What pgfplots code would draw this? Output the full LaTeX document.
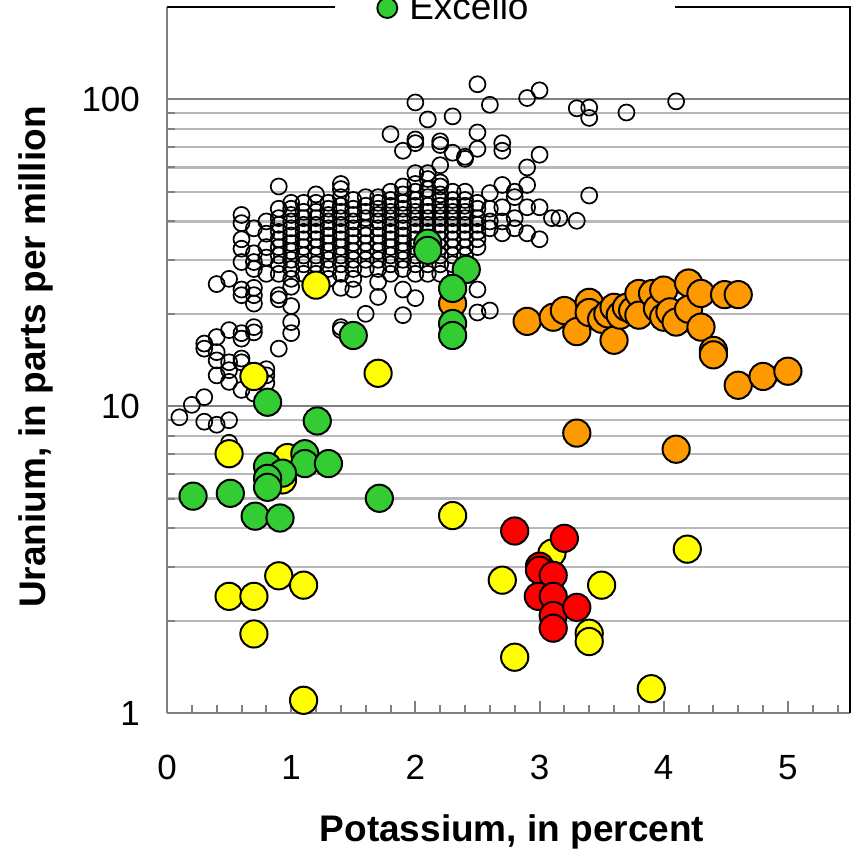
\documentclass[border=0pt]{standalone}
\usepackage{fontspec}
\setmainfont{Liberation Sans}
\usepackage{pgfplots}
\pgfplotsset{compat=1.18}
\definecolor{yel}{HTML}{FFFF00}
\definecolor{grn}{HTML}{33CC33}
\definecolor{org}{HTML}{FF9900}
\definecolor{rd}{HTML}{FF0000}
\definecolor{gridmaj}{HTML}{808080}
\definecolor{gridmin}{HTML}{B8B8B8}
\begin{document}
\begin{tikzpicture}
\begin{axis}[
  at={(0,0)}, anchor=south west,
  scale only axis, width=341.5pt, height=353pt,
  xmin=0, xmax=5.5, ymin=1, ymax=200, ymode=log,
  axis x line=bottom, axis y line=left,
  axis line style={-, gridmaj, line width=1.2pt},
  xtick={0,1,2,3,4,5}, xticklabels={0,1,2,3,4,5},
  minor xtick={0.2,0.4,0.6,0.8,1.2,1.4,1.6,1.8,2.2,2.4,2.6,2.8,3.2,3.4,3.6,3.8,4.2,4.4,4.6,4.8,5.2,5.4},
  ytick={1,10,100}, yticklabels={1,10,100},
  minor ytick={2,3,4,5,6,7,8,9,20,30,40,50,60,70,80,90},
  tick align=inside,
  major tick length=6pt, minor tick length=4pt,
  tick style={gridmaj, line width=1pt},
  ymajorgrids, yminorgrids,
  major grid style={gridmaj, line width=1.1pt},
  minor grid style={gridmin, line width=1.1pt},
  ticklabel style={font=\fontsize{17.5}{20}\selectfont},
  xticklabel style={yshift=-17.5pt},
  yticklabel style={xshift=-10pt},
  xlabel={Potassium, in percent},
  ylabel={Uranium, in parts per million},
  label style={font=\fontsize{18.5}{22}\selectfont\bfseries},
  xlabel style={at={(axis description cs:0.5051,-0.1813)}, anchor=base},
  ylabel style={at={(axis description cs:-0.1786,0.504)}, anchor=base},
  legend style={at={(axis description cs:0.306,0.9986)}, anchor=west, draw=none, fill=none,
    inner sep=0pt, font=\fontsize{18.5}{21}\selectfont},
  legend image code/.code={\draw[fill=grn, draw=black, line width=0.9pt] (5pt,0pt) circle (5pt);
    \path[draw=none, fill=none] (0pt,0pt) -- (14pt,0pt);},
]
% other samples (open circles)
\addplot[only marks, mark=o, mark size=4pt, mark options={black, line width=0.85pt}, forget plot] coordinates {
(0.1,9.2) (0.2,10.1) (0.3,10.7) (0.3,8.9) (0.4,8.7) (0.5,9.0) (0.5,7.6)
(0.4,12.6) (0.5,12.0) (0.6,11.3) (0.7,11.0) (0.8,12.6) (0.8,11.9)
(0.4,15.0) (0.4,14.1) (0.5,13.9) (0.5,13.1) (0.6,14.3) (0.6,13.9)
(0.3,16.0) (0.3,15.4) (0.4,16.8) (0.5,17.7) (0.6,17.3) (0.6,16.6)
(0.7,18.1) (0.7,17.4) (0.8,13.2) (0.9,15.4) (1.0,18.8) (1.0,17.3)
(0.4,25.0) (0.5,26.0) (0.6,24.0) (0.6,23.0) (0.7,24.3) (0.7,23.0) (0.7,21.6)
(0.9,23.0) (0.9,22.3) (1.0,24.5) (1.0,21.2)
(0.6,42) (0.6,39.5) (0.6,35) (0.6,32.6) (0.6,29.5)
(0.7,38) (0.7,31.5) (0.7,29.5) (0.7,28) (0.8,36.5) (0.8,30.5)
(2.5,112) (2.0,97.7) (2.9,101) (3.0,107) (2.6,96) (2.1,86) (2.3,88)
(1.8,77) (2.5,78) (2.0,74) (2.0,72) (1.9,68) (2.2,73) (2.2,71) (2.3,67)
(2.4,65) (2.4,64) (2.5,69) (2.7,72) (2.7,68) (3.0,66) (2.2,61) (2.0,57.5)
(2.1,57.5) (2.2,53.6) (2.1,55) (2.9,60) (2.9,52.6) (2.7,52.6) (2.8,50)
(2.6,49.5) (3.0,44.5) (3.1,41) (3.0,35) (2.9,44.5) (2.9,36.6) (2.8,48)
(2.8,41) (2.8,38) (2.7,44.5) (2.7,40) (2.7,36.6)
(3.3,93.5) (3.4,94) (3.4,87) (3.7,90.6) (4.1,98.5) (3.4,48.6) (3.3,40.2) (3.16,41)
(1.4,24.3) (1.5,24) (1.7,25.4) (1.7,22.7) (1.9,24) (2.0,22.5) (1.9,19.8)
(1.6,20.0) (1.4,18.1) (1.4,17.7) (2.5,24) (2.5,20.2) (2.6,20.5)
(0.8,27) (0.8,33) (0.8,40)
(0.9,52) (0.9,44) (0.9,41) (0.9,39) (0.9,37) (0.9,35) (0.9,33) (0.9,31) (0.9,29) (0.9,27)
(1.0,46) (1.0,44) (1.0,42) (1.0,40) (1.0,38) (1.0,36) (1.0,34) (1.0,32) (1.0,30) (1.0,28) (1.0,26)
(1.1,46) (1.1,43) (1.1,41) (1.1,39) (1.1,37) (1.1,35) (1.1,33) (1.1,31) (1.1,29) (1.1,27)
(1.2,49) (1.2,46) (1.2,43) (1.2,41) (1.2,39) (1.2,37) (1.2,35) (1.2,33) (1.2,31) (1.2,29) (1.2,27)
(1.3,46) (1.3,44) (1.3,42) (1.3,40) (1.3,38) (1.3,36) (1.3,34) (1.3,32) (1.3,30) (1.3,28) (1.3,26)
(1.4,53) (1.4,51) (1.4,48) (1.4,45) (1.4,43) (1.4,41) (1.4,39) (1.4,37) (1.4,35) (1.4,33) (1.4,31) (1.4,29) (1.4,27)
(1.5,47) (1.5,44) (1.5,42) (1.5,40) (1.5,38) (1.5,36) (1.5,34) (1.5,32) (1.5,30) (1.5,28) (1.5,26)
(1.6,48) (1.6,45) (1.6,43) (1.6,41) (1.6,38) (1.6,36) (1.6,34) (1.6,32) (1.6,30) (1.6,28)
(1.7,48) (1.7,46) (1.7,44) (1.7,42) (1.7,40) (1.7,38) (1.7,36) (1.7,34) (1.7,32) (1.7,30) (1.7,28)
(1.8,50) (1.8,47) (1.8,45) (1.8,43) (1.8,41) (1.8,39) (1.8,37) (1.8,35) (1.8,33) (1.8,31) (1.8,29) (1.8,27)
(1.9,52) (1.9,49) (1.9,46) (1.9,44) (1.9,42) (1.9,40) (1.9,38) (1.9,36) (1.9,34) (1.9,32) (1.9,30) (1.9,28)
(2.0,53) (2.0,50) (2.0,47) (2.0,45) (2.0,43) (2.0,41) (2.0,39) (2.0,37) (2.0,35) (2.0,33) (2.0,31) (2.0,29) (2.0,27)
(2.1,51) (2.1,48) (2.1,45) (2.1,43) (2.1,41) (2.1,39) (2.1,37) (2.1,35) (2.1,31) (2.1,29) (2.1,27)
(2.2,52) (2.2,49) (2.2,47) (2.2,45) (2.2,43) (2.2,41) (2.2,39) (2.2,37) (2.2,35) (2.2,33) (2.2,31) (2.2,29) (2.2,27)
(2.3,50) (2.3,47) (2.3,45) (2.3,43) (2.3,41) (2.3,39) (2.3,37) (2.3,35) (2.3,33) (2.3,31) (2.3,29)
(2.4,50) (2.4,47) (2.4,45) (2.4,43) (2.4,41) (2.4,39) (2.4,37) (2.4,35) (2.4,33) (2.4,31)
(2.5,46) (2.5,44) (2.5,41) (2.5,39) (2.5,37) (2.5,35) (2.5,33)
(2.6,44) (2.6,40) (2.6,38)
};
% yellow
\addplot[only marks, mark=*, mark size=6.8pt, mark options={fill=yel, draw=black, line width=1pt}, forget plot] coordinates {
(1.2,24.8) (0.7,12.5) (1.7,12.8) (0.5,7.0) (0.97,6.8) (0.93,5.75) (2.3,4.4)
(0.9,2.8) (1.1,2.61) (0.5,2.4) (0.7,2.4) (0.7,1.81) (1.1,1.1) (2.7,2.71)
(2.8,1.52) (3.1,3.32) (3.4,1.82) (3.4,1.71) (3.5,2.61) (3.9,1.2) (4.19,3.42)
};
% orange
\addplot[only marks, mark=*, mark size=6.8pt, mark options={fill=org, draw=black, line width=1pt}, forget plot] coordinates {
(2.3,21.6) (2.9,18.9) (3.11,19.5) (3.2,20.5) (3.3,17.5) (3.4,21.8) (3.4,20.2)
(3.5,19.2) (3.55,20.0) (3.6,16.4) (3.6,21.0) (3.65,19.8) (3.7,21.0) (3.75,20.5)
(3.8,23.3) (3.8,19.8) (3.91,23.3) (3.95,20.8) (4.0,23.9) (4.0,19.5) (4.05,20.3)
(4.1,18.8) (4.2,25.2) (4.2,20.7) (4.3,23.3) (4.3,18.1) (4.4,15.2) (4.4,14.7)
(4.49,23.1) (4.6,23.1) (4.6,11.7) (4.8,12.5) (5.0,13.0) (3.3,8.17) (4.1,7.24)
};
% red
\addplot[only marks, mark=*, mark size=6.8pt, mark options={fill=rd, draw=black, line width=1pt}, forget plot] coordinates {
(2.8,3.92) (3.2,3.71) (3.0,3.01) (3.0,2.92) (3.11,2.81) (2.99,2.40) (3.11,2.40)
(3.11,2.08) (3.11,1.89) (3.3,2.21)
};
% green (Excello)
\addplot[only marks, mark=*, mark size=6.8pt, mark options={fill=grn, draw=black, line width=1pt}] coordinates {
(2.1,34) (2.1,32.2) (2.41,27.9) (2.3,24.2) (2.3,18.6) (2.3,17.0) (1.5,17.0)
(0.81,10.3) (1.21,8.95) (1.11,7.0) (1.11,6.5) (1.3,6.5) (0.81,6.37) (0.93,6.05)
(0.81,5.82) (0.81,5.44) (0.21,5.09) (0.51,5.2) (0.71,4.38) (0.91,4.32) (1.71,5.01)
};
\addlegendentry{Excello}
\end{axis}
\draw[black, line width=1pt] (0pt,353pt) -- (84pt,353pt);
\draw[black, line width=1pt] (254pt,353pt) -- (341.5pt,353pt) -- (341.5pt,0pt);
\pgfresetboundingbox
\useasboundingbox (-83.5pt,-69.5pt) rectangle (342.5pt,356.5pt);
\end{tikzpicture}
\end{document}
